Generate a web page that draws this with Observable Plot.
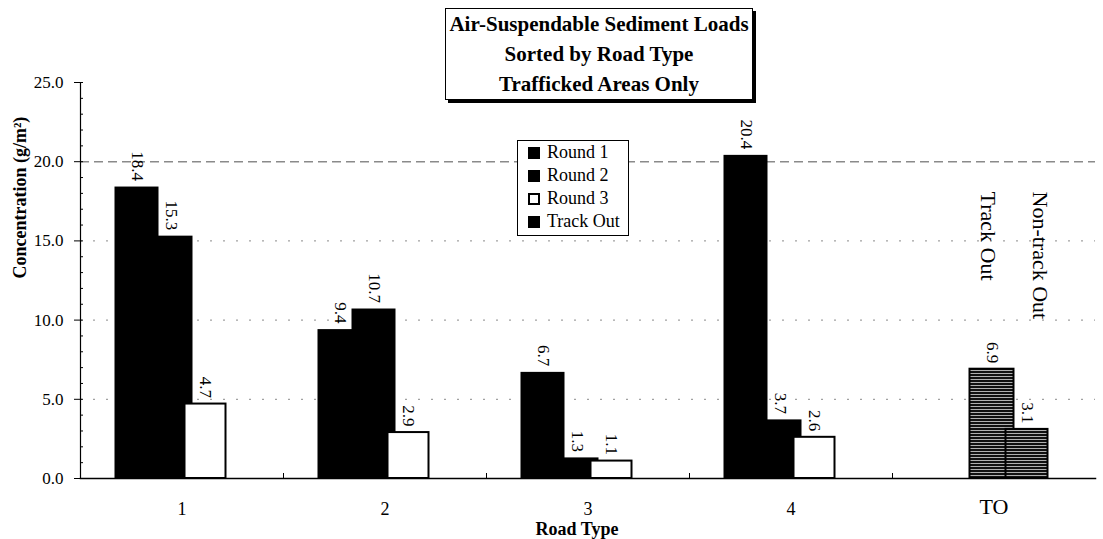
<!DOCTYPE html>
<html>
<head>
<meta charset="utf-8">
<script src="https://cdn.jsdelivr.net/npm/d3@7"></script>
<script src="https://cdn.jsdelivr.net/npm/@observablehq/plot@0.6"></script>
<style>
  html, body { margin: 0; padding: 0; background: #fff; }
  #wrap { position: relative; width: 1103px; height: 539px; font-family: "Liberation Serif", "Times New Roman", serif; color: #000; }
  #chart { position: absolute; left: 0; top: 0; }
  #title { position: absolute; left: 445px; top: 8px; width: 308px; height: 92px; border: 1px solid #000;
           box-shadow: 3px 3px 0 #000; background: #fff; text-align: center; font-weight: bold;
           font-size: 21px; line-height: 30px; padding-top: 0; box-sizing: border-box; white-space: nowrap; }
  #legend { position: absolute; left: 517px; top: 140px; width: 112px; border: 1px solid #000; background: #fff;
            font-size: 18px; line-height: 23px; box-sizing: border-box; padding-bottom: 2px; }
  .row { display: flex; align-items: center; height: 23px; }
  .sw { width: 12px; height: 12px; margin-left: 10px; margin-right: 7px; box-sizing: border-box; }
</style>
</head>
<body>
<div id="wrap">
  <div id="chart"></div>
  <div id="title"></div>
  <div id="legend"></div>
</div>
<script>
// ---------- data ----------
const roadTypes = ["1", "2", "3", "4", "TO"];
const roundTypes = ["1", "2", "3", "4"];
const round1 = [18.4, 9.4, 6.7, 20.4];
const round2 = [15.3, 10.7, 1.3, 3.7];
const round3 = [4.7, 2.9, 1.1, 2.6];
const toNames = ["Track Out", "Non-track Out"];
const toValues = [6.9, 3.1];
const yTicks = [0, 5, 10, 15, 20, 25];
const legendNames = ["Round 1", "Round 2", "Round 3", "Track Out"];
const titleLines = ["Air-Suspendable Sediment Loads", "Sorted by Road Type", "Trafficked Areas Only"];
const yLabel = "Concentration (g/m²)";
const xLabel = "Road Type";

// ---------- layout ----------
const W = 1103, H = 539;
const mL = 80, mR = 8, mT = 82, mB = 61;
const bw = (W - mR - mL) / roadTypes.length; // band width
// bar extents relative to band centre [left, right]
const span = {
  r1: [-67, -23], r2: [-33, 11], r3: [3, 44],
  to: [-24, 20], nto: [12, 54]
};
const ins = s => ({insetLeft: span[s][0] + bw / 2, insetRight: bw / 2 - span[s][1]});
const mid = s => (span[s][0] + span[s][1]) / 2;

const rows = (vals) => roundTypes.map((t, i) => ({type: t, value: vals[i]}));
const r1 = rows(round1), r2 = rows(round2), r3 = rows(round3);
const to = [{type: "TO", name: toNames[0], value: toValues[0]}];
const nto = [{type: "TO", name: toNames[1], value: toValues[1]}];

const labelOpts = (s) => ({x: "type", y: "value", text: d => d.value.toFixed(1), rotate: 90,
  textAnchor: "end", lineAnchor: "middle", dx: mid(s), dy: -6, fontSize: 17});

const svg = Plot.plot({
  width: W, height: H,
  marginLeft: mL, marginRight: mR, marginTop: mT, marginBottom: mB,
  style: {fontFamily: "'Liberation Serif', 'Times New Roman', serif", fontSize: "17px", color: "#000", background: "transparent"},
  x: {type: "band", domain: roadTypes, range: [mL, W - mR], padding: 0, axis: null},
  y: {domain: [0, 25]},
  marks: [
    // grid
    Plot.ruleY(yTicks.filter(v => v > 0 && v < 25 && v !== 20), {stroke: "#8a8a8a", strokeDasharray: "2,11"}),
    Plot.ruleY(yTicks.filter(v => v === 20), {stroke: "#8a8a8a", strokeWidth: 1.6, strokeDasharray: "9,5"}),
    // bars
    Plot.barY(r1, {x: "type", y: "value", fill: "#000", ...ins("r1")}),
    Plot.barY(r2, {x: "type", y: "value", fill: "#000", ...ins("r2")}),
    Plot.barY(r3, {x: "type", y: "value", fill: "#fff", stroke: "#000", strokeWidth: 2, ...ins("r3")}),
    Plot.barY(to, {x: "type", y: "value", fill: "url(#hstripe)", stroke: "#000", strokeWidth: 2, ...ins("to")}),
    Plot.barY(nto, {x: "type", y: "value", fill: "url(#hstripe)", stroke: "#000", strokeWidth: 2, ...ins("nto")}),
    // value labels
    Plot.text(r1, labelOpts("r1")),
    Plot.text(r2, labelOpts("r2")),
    Plot.text(r3, labelOpts("r3")),
    Plot.text(to, labelOpts("to")),
    Plot.text(nto, labelOpts("nto")),
    // series names over TO group
    Plot.text(to, {x: "type", text: "name", frameAnchor: "top", rotate: 90, textAnchor: "start", lineAnchor: "middle", dx: -5.5, dy: 109, fontSize: 22}),
    Plot.text(nto, {x: "type", text: "name", frameAnchor: "top", rotate: 90, textAnchor: "start", lineAnchor: "middle", dx: 46.5, dy: 109, fontSize: 22}),
    // axis lines
    Plot.frame({anchor: "left", stroke: "#000", strokeWidth: 1.2}),
    Plot.frame({anchor: "bottom", stroke: "#000", strokeWidth: 1.5}),
    // y axis
    Plot.axisY(yTicks, {anchor: "left", tickSize: 6, tickPadding: 11, tickFormat: d => d.toFixed(1), fontSize: 17, label: null}),
    Plot.tickY(d3.range(0, 26), {y: d => d, stroke: "#000", insetRight: (W - mR - mL) - 3}),
    // x boundary ticks
    Plot.tickX(roadTypes.slice(1), {x: d => d, dx: -bw / 2, stroke: "#000", insetTop: (H - mB - mT) - 5}),
    // x labels
    Plot.text(roadTypes.filter(d => d !== "TO"), {x: d => d, text: d => d, frameAnchor: "bottom", lineAnchor: "top", dy: 24, fontSize: 18}),
    Plot.text(roadTypes.filter(d => d === "TO"), {x: d => d, text: d => d, frameAnchor: "bottom", lineAnchor: "top", dy: 20, fontSize: 22}),
    // axis titles
    Plot.text([xLabel], {frameAnchor: "bottom", text: d => d, lineAnchor: "top", dy: 44, dx: -11, fontSize: 18, fontWeight: "bold"}),
    Plot.text([yLabel], {frameAnchor: "left", text: d => d, rotate: -90, lineAnchor: "middle", dx: -60, dy: -2, fontSize: 18, fontWeight: "bold"})
  ]
});

// stripe pattern for the track-out bars
const defs = d3.select(svg).insert("defs", ":first-child");
const pat = defs.append("pattern").attr("id", "hstripe").attr("patternUnits", "userSpaceOnUse")
  .attr("width", 8).attr("height", 3);
pat.append("rect").attr("width", 8).attr("height", 3).attr("fill", "#111");
pat.append("rect").attr("y", 1).attr("width", 8).attr("height", 1).attr("fill", "#b0b0b0");

document.getElementById("chart").appendChild(svg);

// title
const title = document.getElementById("title");
titleLines.forEach(t => { const d = document.createElement("div"); d.textContent = t; title.appendChild(d); });

// legend
const swatchStyle = {
  "Round 1": "background:#000;",
  "Round 2": "background:#000;",
  "Round 3": "background:#fff;border:2px solid #000;",
  "Track Out": "background:#000;"
};
const legend = document.getElementById("legend");
legendNames.forEach(n => {
  const r = document.createElement("div"); r.className = "row";
  const s = document.createElement("div"); s.className = "sw"; s.style.cssText = swatchStyle[n];
  const t = document.createElement("span"); t.textContent = n;
  r.appendChild(s); r.appendChild(t); legend.appendChild(r);
});
</script>
</body>
</html>
